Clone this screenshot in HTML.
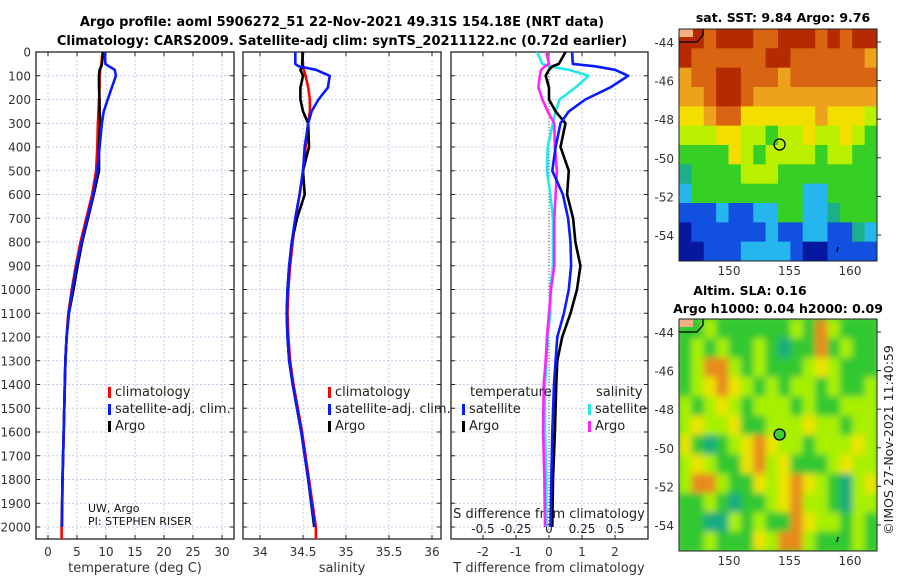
<!DOCTYPE html>
<html><head><meta charset="utf-8">
<style>
html,body{margin:0;padding:0;background:#fff;}
svg{display:block;font-family:"DejaVu Sans","Liberation Sans",sans-serif;}
</style></head>
<body>
<svg id="fig" width="900" height="580" viewBox="0 0 900 580" xmlns="http://www.w3.org/2000/svg">
<defs>
<clipPath id="c1"><rect x="36" y="52" width="198" height="487"/></clipPath>
<clipPath id="c2"><rect x="243" y="52" width="198" height="487"/></clipPath>
<clipPath id="c3"><rect x="451" y="52" width="197" height="487"/></clipPath>
<clipPath id="cm1"><rect x="679" y="29" width="198" height="232"/></clipPath>
<clipPath id="cm2"><rect x="679" y="319" width="198" height="232"/></clipPath>
<filter id="blur" x="-10%" y="-10%" width="120%" height="120%"><feGaussianBlur stdDeviation="3.5"/></filter>
</defs>
<text x="342" y="26" text-anchor="middle" font-size="13" font-weight="bold">Argo profile: aoml 5906272_51 22-Nov-2021 49.31S 154.18E (NRT data)</text>
<text x="342" y="45" text-anchor="middle" font-size="13" font-weight="bold">Climatology: CARS2009. Satellite-adj clim: synTS_20211122.nc (0.72d earlier)</text>
<g id="root"></g>
</svg>
<script>
const depths=[0,50,60,75,100,150,200,250,300,400,500,600,700,800,900,1000,1100,1200,1300,1400,1600,1800,2000];
const tClim=[9.4,9.2,9.1,9.0,8.9,8.9,8.8,8.7,8.6,8.5,8.3,7.6,6.6,5.6,4.8,4.1,3.5,3.2,3.0,2.9,2.7,2.5,2.35];
const tSat=[9.8,9.9,10.5,11.5,11.7,11.0,10.3,9.6,9.3,8.9,8.5,7.8,6.8,5.8,4.9,4.2,3.6,3.2,3.0,2.9,2.7,2.5,2.4];
const tArgo=[9.5,9.3,9.2,8.9,8.8,8.8,8.9,8.9,9.0,8.8,8.8,7.9,6.9,5.9,5.1,4.4,3.6,3.2,3.0,2.9,2.7,2.5,2.4];
const sClim=[34.49,34.5,34.5,34.51,34.53,34.56,34.58,34.58,34.56,34.53,34.5,34.46,34.41,34.38,34.35,34.33,34.32,34.33,34.35,34.39,34.49,34.57,34.65];
const sSat=[34.41,34.41,34.45,34.65,34.81,34.79,34.68,34.6,34.56,34.52,34.5,34.46,34.41,34.37,34.34,34.32,34.31,34.32,34.34,34.38,34.48,34.56,34.64];
const sArgo=[34.5,34.49,34.5,34.47,34.5,34.47,34.47,34.5,34.56,34.57,34.5,34.52,34.43,34.37,34.34,34.32,34.31,34.32,34.34,34.38,34.48,34.56,34.63];
const dtSat=[0.7,0.72,1.4,2.0,2.4,1.85,1.1,0.6,0.35,0.2,0.1,0.42,0.58,0.65,0.67,0.6,0.45,0.25,0.2,0.15,0.1,0.07,0.05];
const dtArgo=[0.5,0.3,0.1,0.0,-0.1,0.0,0.0,0.2,0.5,0.35,0.6,0.55,0.73,0.8,0.95,0.85,0.65,0.4,0.25,0.22,0.18,0.12,0.1];
const dsSat=[-0.09,-0.05,0.0,0.15,0.3,0.2,0.08,0.05,0.03,-0.01,-0.015,0.01,0.03,0.03,0.03,0.01,0.01,-0.01,-0.02,-0.03,-0.03,-0.02,-0.02];
const dsArgo=[-0.02,0.0,-0.03,-0.06,-0.07,-0.08,-0.05,-0.01,0.04,0.045,0.06,0.05,0.04,0.04,0.04,0.015,0.0,-0.015,-0.025,-0.04,-0.045,-0.035,-0.03];
const depthTicks=[0,100,200,300,400,500,600,700,800,900,1000,1100,1200,1300,1400,1500,1600,1700,1800,1900,2000];
const tTicks=[0,5,10,15,20,25,30];
const sTicks=[34,34.5,35,35.5,36];
const sTickLabels=["34","34.5","35","35.5","36"];
const dTTicks=[-2,-1,0,1,2];
const dSTicks=[-0.5,-0.25,0,0.25,0.5];
const dSTickLabels=["-0.5","-0.25","0","0.25","0.5"];
const sstRows=["RRORRROORRRORORR","ROOOOOORROOOOOOa","aOORROOOaOOOOOOO","aaORROaaaaaaaaaa","YYaOOYYYYYYaYYYL","LLLYYLLGLLYLLYLG","GGGGYLGLLLLGLLGG","TGGGGLLLGGGGGGGG","CGGGGGGGGGCCGGGG","BBBCBBCCGGCCTGGG","DBBBBBBCBBCCBBTC","DDBBBCCCCBDDBBBB"];
const slaRows=["GGLGGGGGGLGOLGGG","GLGLGGLGTGGOGLGG","GLOOLGLGGGLYLGGG","GLYOYLGLGLLGLGGL","LGLYLGLLLGLGGLLL","LYLLYGGLLLYLLGLL","YGTGLYOYLLGLLLYL","LYLGGYOLYGGGLYLL","LOOLGGYLYOYLGTLY","GGLGTGGLYOLLGTLL","GGTTLGLGGOYLLGLG","GGLGGGYLOOLGGGLG"];
const lonTicks=[150,155,160];
const latTicks=[-44,-46,-48,-50,-52,-54];
const argoLon=154.18, argoLat=-49.31;

const NS="http://www.w3.org/2000/svg";
const root=document.getElementById('root');
function mk(tag,attrs,parent){const e=document.createElementNS(NS,tag);for(const k in attrs)e.setAttribute(k,attrs[k]);(parent||root).appendChild(e);return e;}
const yD=d=>52+d*0.2375;
const xT=v=>48+v*5.8;
const xS=v=>260+(v-34)*86;
const xDT=v=>549+v*33;
const xDS=v=>549+v*132;

const panels=[{l:36,r:234,clip:'c1',name:'temperature-panel'},{l:243,r:441,clip:'c2',name:'salinity-panel'},{l:451,r:648,clip:'c3',name:'difference-panel'}];
const gridX=[tTicks.map(xT),sTicks.map(xS),dTTicks.map(xDT)];
panels.forEach((p,i)=>{
  const g=mk('g',{});
  
  
  gridX[i].forEach(x=>{
    const l=mk('line',{x1:x,x2:x,y1:52,y2:539,stroke:'#c4cbe8','stroke-width':1,'stroke-dasharray':'2,2'},g);
    
    
    const t1=mk('line',{x1:x,x2:x,y1:539,y2:535,stroke:'#222'},g);
    
    
    const t2=mk('line',{x1:x,x2:x,y1:52,y2:56,stroke:'#222'},g);
    
    
  });
  depthTicks.forEach(d=>{
    const y=yD(d);
    if(d>0){
      const l=mk('line',{x1:p.l,x2:p.r,y1:y,y2:y,stroke:'#c4cbe8','stroke-width':1,'stroke-dasharray':'2,2'},g);
      
      
    }
    const tl=mk('line',{x1:p.l,x2:p.l+4,y1:y,y2:y,stroke:'#222'},g);
    
    
    const tr=mk('line',{x1:p.r,x2:p.r-4,y1:y,y2:y,stroke:'#222'},g);
    
    
  });
  const f=mk('rect',{x:p.l,y:52,width:p.r-p.l,height:487,fill:'none',stroke:'#222','stroke-width':1.3},g);
  
  
});
depthTicks.forEach(d=>{
  const t=mk('text',{x:31,y:yD(d)+4.5,'text-anchor':'end','font-size':12,fill:'#333'});
  t.textContent=d;
  
  
});
tTicks.forEach(v=>{const t=mk('text',{x:xT(v),y:556,'text-anchor':'middle','font-size':12,fill:'#333'});t.textContent=v;
  
  });
sTicks.forEach((v,i)=>{const t=mk('text',{x:xS(v),y:556,'text-anchor':'middle','font-size':12,fill:'#333'});t.textContent=sTickLabels[i];
  
  });
dTTicks.forEach(v=>{const t=mk('text',{x:xDT(v),y:556,'text-anchor':'middle','font-size':12,fill:'#333'});t.textContent=v;
  
  });
dSTicks.forEach((v,i)=>{const t=mk('text',{x:xDS(v),y:533,'text-anchor':'middle','font-size':12,fill:'#222'});t.textContent=dSTickLabels[i];
  
  });
[[135,'temperature (deg C)','x-axis-title-temperature'],[342,'salinity','x-axis-title-salinity'],[549,'T difference from climatology','x-axis-title-t-difference']].forEach(a=>{
  const t=mk('text',{x:a[0],y:572,'text-anchor':'middle','font-size':13,fill:'#333'});t.textContent=a[1];
  
  
});
const st=mk('text',{x:549,y:518,'text-anchor':'middle','font-size':13,fill:'#222'});st.textContent='S difference from climatology';



const zl=mk('line',{x1:549,x2:549,y1:52,y2:539,stroke:'#555','stroke-dasharray':'1,2'});



function series(vals,xf,color,clip,name,maxD){
  const pts=[];
  depths.forEach((d,i)=>{pts.push(xf(vals[i]).toFixed(1)+','+yD(d).toFixed(1));});
  if(maxD) pts.push(xf(vals[vals.length-1]).toFixed(1)+','+yD(maxD).toFixed(1));
  const l=mk('polyline',{points:pts.join(' '),fill:'none',stroke:color,'stroke-width':2.6,'stroke-linejoin':'round','clip-path':'url(#'+clip+')'});
  return l;
}
let s;
s=series(tClim,xT,'#ff0000','c1',null,2060);


s=series(tArgo,xT,'#000','c1');


s=series(tSat,xT,'#0a1aff','c1');


s=series(sClim,xS,'#ff0000','c2',null,2060);


s=series(sArgo,xS,'#000','c2');


s=series(sSat,xS,'#0a1aff','c2');


s=series(dsSat,xDS,'#22e8e8','c3');


s=series(dsArgo,xDS,'#ff22ff','c3');


s=series(dtArgo,xDT,'#000','c3');


s=series(dtSat,xDT,'#0a1aff','c3');



function legendItem(x,y,color,label,name){
  const g=mk('g',{});
  
  
  mk('rect',{x:x,y:y-9,width:3,height:11,fill:color},g);
  const t=mk('text',{x:x+7,y:y,'font-size':13,fill:'#222'},g);t.textContent=label;
}
legendItem(108,396,'#ff0000','climatology','legend-climatology');
legendItem(108,413,'#0a1aff','satellite-adj. clim.','legend-satellite-adj');
legendItem(108,430,'#000','Argo','legend-argo');
legendItem(328,396,'#ff0000','climatology','legend-climatology-salinity');
legendItem(328,413,'#0a1aff','satellite-adj. clim.','legend-satellite-adj-salinity');
legendItem(328,430,'#000','Argo','legend-argo-salinity');
let lt=mk('text',{x:470,y:396,'font-size':13,fill:'#222'});lt.textContent='temperature';


lt=mk('text',{x:596,y:396,'font-size':13,fill:'#222'});lt.textContent='salinity';


legendItem(462,413,'#0a1aff','satellite','legend-t-satellite');
legendItem(462,430,'#000','Argo','legend-t-argo');
legendItem(588,413,'#22e8e8','satellite','legend-s-satellite');
legendItem(588,430,'#ff22ff','Argo','legend-s-argo');
lt=mk('text',{x:88,y:512,'font-size':11,fill:'#111'});lt.textContent='UW, Argo';


lt=mk('text',{x:88,y:525,'font-size':11,fill:'#111'});lt.textContent='PI: STEPHEN RISER';



const sstCol={R:'#b52a00',O:'#d96512',a:'#eda21e',Y:'#f2df00',L:'#b8f000',G:'#35cf25',T:'#1cb08a',C:'#25b6ee',B:'#1250e0',D:'#0618a0'};
const slaCol={G:'#30c830',L:'#a8f000',Y:'#ece400',O:'#e88a1a',T:'#18ac80'};
function drawMap(top,rows,cols,clip,name,blur){
  const L=679,W=198,H=232;
  const g=mk('g',{'clip-path':'url(#'+clip+')'});
  
  
  mk('rect',{x:L,y:top,width:W,height:H,fill:blur?'#55d535':'#35cf25'},g);
  const inner=mk('g',blur?{filter:'url(#blur)'}:{},g);
  const cw=W/16,ch=H/12;
  rows.forEach((r,ri)=>{for(let ci=0;ci<r.length;ci++){
    mk('rect',{x:(L+ci*cw).toFixed(2),y:(top+ri*ch).toFixed(2),width:(cw+0.6).toFixed(2),height:(ch+0.6).toFixed(2),fill:cols[r[ci]]},inner);
  }});
  mk('path',{d:`M679 ${top+13} L697 ${top+13} L703 ${top+6} L703 ${top}`,fill:'none',stroke:'#000','stroke-width':1.3},g);
  mk('rect',{x:679,y:top,width:14,height:8,fill:'#f4b080'},g);
  mk('path',{d:`M838 ${top+218} l-1 5`,stroke:'#000','stroke-width':1.5},g);
  const fr=mk('rect',{x:L,y:top,width:W,height:H,fill:'none',stroke:'#222','stroke-width':1});
  
  
  const xLon=v=>729+(v-150)*12.1;
  const yLat=v=>top+13+(-44-v)*19.3;
  const c=mk('circle',{cx:xLon(argoLon),cy:yLat(argoLat),r:5.5,fill:blur?'#3ccf32':'none',stroke:'#000','stroke-width':1.3});
  
  
  latTicks.forEach(v=>{
    const y=yLat(v);
    const t=mk('text',{x:674,y:y+5,'text-anchor':'end','font-size':12,fill:'#333'});t.textContent=v;
    
    
    const tk=mk('line',{x1:877,x2:881,y1:y,y2:y,stroke:'#222'});
    
    
  });
  lonTicks.forEach(v=>{
    const t=mk('text',{x:xLon(v),y:top+H+14,'text-anchor':'middle','font-size':12,fill:'#333'});t.textContent=v;
    
    
  });
}
drawMap(29,sstRows,sstCol,'cm1','sst-map',false);
drawMap(319,slaRows,slaCol,'cm2','sla-map',true);
lt=mk('text',{x:783,y:22,'text-anchor':'middle','font-size':12.5,'font-weight':'bold'});lt.textContent='sat. SST: 9.84 Argo: 9.76';


lt=mk('text',{x:750,y:295,'text-anchor':'middle','font-size':12.5,'font-weight':'bold'});lt.textContent='Altim. SLA: 0.16';


lt=mk('text',{x:778,y:313,'text-anchor':'middle','font-size':12.5,'font-weight':'bold'});lt.textContent='Argo h1000: 0.04 h2000: 0.09';


lt=mk('text',{x:0,y:0,'text-anchor':'middle','font-size':12.5,fill:'#222',transform:'translate(893,440) rotate(-90)'});lt.textContent='©IMOS 27-Nov-2021 11:40:59';


</script>
</body></html>
